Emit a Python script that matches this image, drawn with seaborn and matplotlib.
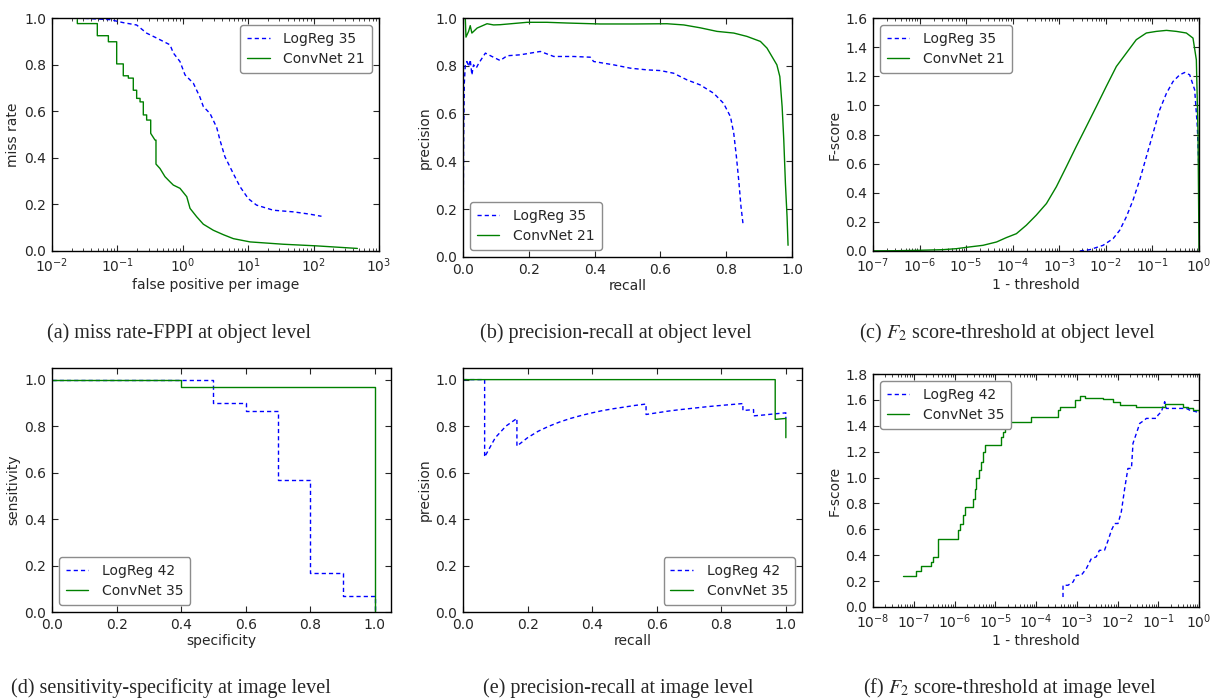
import numpy as np
import matplotlib
matplotlib.use("Agg")
import matplotlib.pyplot as plt
import matplotlib.ticker as mticker
import seaborn as sns

# (a) miss rate vs false positives per image, object level
a_lr_x = [0.0244, 0.077, 0.123, 0.197, 0.28, 0.398, 0.637, 0.716, 0.906, 1.08, 1.45, 1.83, 2.06,
          2.61, 3.3, 3.7, 4.4, 5.9, 7.5, 10, 13.4, 24.2, 49, 88, 132]
a_lr_y = [1.0, 0.993, 0.98, 0.97, 0.935, 0.914, 0.885, 0.85, 0.813, 0.756, 0.72, 0.66, 0.62,
          0.59, 0.53, 0.476, 0.405, 0.333, 0.276, 0.225, 0.197, 0.175, 0.168, 0.158, 0.149]
a_cn_x = [0.0244, 0.0244, 0.0493, 0.0493, 0.0728, 0.0728, 0.0975, 0.0975, 0.123, 0.123, 0.147, 0.147,
          0.175, 0.175, 0.197, 0.197, 0.222, 0.222, 0.249, 0.249, 0.28, 0.28, 0.323, 0.323, 0.376,
          0.389, 0.389, 0.448, 0.534, 0.637, 0.716, 0.906, 1.15, 1.29, 1.63, 2.06, 2.93, 4.17, 5.93,
          10.7, 34.4, 111, 467]
a_cn_y = [0.993, 0.976, 0.976, 0.924, 0.924, 0.898, 0.898, 0.803, 0.803, 0.752, 0.752, 0.742,
          0.742, 0.69, 0.69, 0.655, 0.655, 0.64, 0.64, 0.584, 0.584, 0.562, 0.562, 0.505, 0.476,
          0.476, 0.373, 0.354, 0.319, 0.297, 0.283, 0.269, 0.233, 0.183, 0.147, 0.115, 0.089, 0.07, 0.053,
          0.039, 0.029, 0.022, 0.011]

# (b) precision-recall, object level
b_lr_x = [0.0, 0.002, 0.004, 0.007, 0.012, 0.017, 0.022, 0.027, 0.032, 0.04, 0.048, 0.068, 0.088,
          0.113, 0.134, 0.174, 0.235, 0.276, 0.336, 0.387, 0.397, 0.458, 0.509, 0.559, 0.6, 0.64,
          0.681, 0.721, 0.762, 0.792, 0.813, 0.823, 0.831, 0.838, 0.845, 0.851]
b_lr_y = [0.0, 0.517, 0.727, 0.804, 0.818, 0.797, 0.825, 0.762, 0.804, 0.79, 0.811, 0.853, 0.839,
          0.822, 0.842, 0.846, 0.86, 0.839, 0.839, 0.836, 0.818, 0.804, 0.79, 0.783, 0.78, 0.769,
          0.741, 0.72, 0.685, 0.643, 0.587, 0.517, 0.42, 0.322, 0.21, 0.14]
b_cn_x = [0.007, 0.009, 0.017, 0.022, 0.027, 0.043, 0.073, 0.093, 0.113, 0.195, 0.255, 0.316, 0.417,
          0.519, 0.62, 0.671, 0.721, 0.772, 0.823, 0.863, 0.904, 0.924, 0.939, 0.954, 0.963, 0.97,
          0.975, 0.98, 0.985, 0.988]
b_cn_y = [1.0, 0.92, 0.944, 0.968, 0.937, 0.958, 0.976, 0.971, 0.972, 0.982, 0.982, 0.979, 0.975,
          0.975, 0.976, 0.971, 0.959, 0.944, 0.937, 0.923, 0.902, 0.874, 0.839, 0.804, 0.755, 0.629,
          0.49, 0.308, 0.168, 0.049]

# (c) F2 score vs 1 - threshold, object level
c_lr_x = [2.75e-3, 4.5e-3, 8.7e-3, 1.43e-2, 1.98e-2, 2.75e-2, 3.83e-2, 5.33e-2, 7.4e-2, 0.103, 0.143,
          0.2, 0.277, 0.386, 0.493, 0.631, 0.807, 0.921, 1.0]
c_lr_y = [0.0, 0.009, 0.039, 0.085, 0.142, 0.234, 0.349, 0.487, 0.647, 0.808, 0.969, 1.083, 1.164,
          1.21, 1.226, 1.21, 1.107, 0.854, 0.533]
c_cn_x = [1e-7, 3.2e-7, 1e-6, 3.1e-6, 6.2e-6, 1.19e-5, 2.3e-5, 4.5e-5, 7.3e-5, 1.2e-4, 1.96e-4, 3.2e-4,
          5.3e-4, 8.65e-4, 1.42e-3, 2.3e-3, 3.8e-3, 6.25e-3, 1.02e-2, 1.68e-2, 2.75e-2, 4.5e-2, 7.4e-2,
          0.121, 0.2, 0.327, 0.535, 0.743, 0.877, 0.953, 1.0]
c_cn_y = [0.001, 0.002, 0.005, 0.009, 0.016, 0.028, 0.039, 0.062, 0.092, 0.119, 0.177, 0.246, 0.326,
          0.441, 0.579, 0.716, 0.854, 0.992, 1.13, 1.267, 1.359, 1.451, 1.497, 1.508, 1.515, 1.508,
          1.497, 1.462, 1.313, 0.808, 0.005]

# (d) sensitivity vs specificity, image level (step curves)
d_lr_x = [0.0, 0.5, 0.6, 0.7, 0.8, 0.9, 1.0]
d_lr_y = [1.0, 0.9, 0.867, 0.567, 0.167, 0.067, 0.0]
d_cn_x = [0.0, 0.4, 1.0]
d_cn_y = [1.0, 0.967, 0.0]

# (e) precision-recall, image level
e_lr_x = [0.0, 0.033, 0.067, 0.067, 0.1, 0.133, 0.167, 0.167, 0.2, 0.233, 0.267, 0.3, 0.333, 0.367,
          0.4, 0.433, 0.467, 0.5, 0.533, 0.567, 0.567, 0.6, 0.633, 0.667, 0.7, 0.733, 0.767, 0.8,
          0.833, 0.867, 0.867, 0.9, 0.9, 0.933, 0.967, 1.0, 1.0]
e_lr_y = [1.0, 1.0, 1.0, 0.667, 0.75, 0.8, 0.833, 0.714, 0.75, 0.778, 0.8, 0.818, 0.833, 0.846,
          0.857, 0.867, 0.875, 0.882, 0.889, 0.895, 0.85, 0.857, 0.864, 0.87, 0.875, 0.88, 0.885, 0.889,
          0.893, 0.897, 0.867, 0.871, 0.844, 0.848, 0.853, 0.857, 0.833]
e_cn_x = [0.0, 0.967, 0.967, 1.0, 1.0]
e_cn_y = [1.0, 1.0, 0.829, 0.833, 0.75]

# (f) F2 score vs 1 - threshold, image level
f_lr_x = [4.6e-4, 4.6e-4, 6.1e-4, 8.1e-4, 9.8e-4, 1.29e-3, 1.72e-3, 2.28e-3, 3.0e-3, 3.6e-3, 4.8e-3,
          5.9e-3, 7.1e-3, 8.5e-3, 1.03e-2, 1.24e-2, 1.5e-2, 1.8e-2, 2.2e-2, 2.4e-2, 3.2e-2, 3.5e-2,
          4.6e-2, 5.1e-2, 9e-2, 9.9e-2, 0.119, 0.144, 0.158, 0.489, 0.59, 1.0]
f_lr_y = [0.077, 0.168, 0.168, 0.193, 0.245, 0.245, 0.297, 0.374, 0.387, 0.438, 0.438,
          0.516, 0.593, 0.645, 0.645, 0.735, 0.915, 1.07, 1.07, 1.264, 1.38, 1.418,
          1.444, 1.457, 1.457, 1.483, 1.508, 1.586, 1.534, 1.534, 1.521, 1.503]
f_cn_x = [5.45e-8, 1.16e-7, 1.5e-7, 2.6e-7, 3.0e-7, 3.94e-7, 1.22e-6, 1.4e-6, 1.62e-6, 1.8e-6, 2.84e-6,
          3.13e-6, 3.43e-6, 3.99e-6, 4.39e-6, 5.0e-6, 5.5e-6, 1.41e-5, 1.55e-5, 1.7e-5, 2.06e-5, 7.7e-5,
          3.5e-4, 3.8e-4, 8.9e-4, 1.18e-3, 1.56e-3, 4.4e-3, 7.8e-3, 1.13e-2, 2.9e-2, 0.15, 0.4, 0.54,
          0.71, 1.0]
f_cn_y = [0.237, 0.275, 0.315, 0.35, 0.387, 0.523, 0.593, 0.645, 0.714, 0.774, 0.838,
          0.915, 0.993, 1.057, 1.122, 1.2, 1.25, 1.315, 1.354, 1.385, 1.431, 1.47,
          1.52, 1.547, 1.6, 1.632, 1.612, 1.604, 1.586, 1.56, 1.547, 1.565, 1.547, 1.534,
          1.521, 1.508]

captions = ["(a) miss rate-FPPI at object level",
            "(b) precision-recall at object level",
            r"(c) $F_2$ score-threshold at object level",
            "(d) sensitivity-specificity at image level",
            "(e) precision-recall at image level",
            r"(f) $F_2$ score-threshold at image level"]

sns.set_style("ticks")
plt.rcParams["font.family"] = ["DejaVu Sans"]
plt.rcParams["font.size"] = 10
plt.rcParams["lines.dashed_pattern"] = [3.0, 2.2]

BLUE = "#0000ff"
GREEN = "#008000"
W, H = 1213, 699

fig = plt.figure(figsize=(W / 100, H / 100), dpi=100)
fig.patch.set_facecolor("white")


def make_ax(l, r, t, b):
    return fig.add_axes([l / W, 1 - b / H, (r - l) / W, (b - t) / H])


def style_ax(ax, xlabel, ylabel):
    ax.set_xlabel(xlabel, fontsize=10, labelpad=2)
    ax.set_ylabel(ylabel, fontsize=10, labelpad=3)
    ax.tick_params(which="both", direction="in", top=True, right=True, labelsize=10, pad=4)
    ax.tick_params(which="major", length=4.5, width=0.8)
    ax.tick_params(which="minor", length=2, width=0.6)
    for s in ax.spines.values():
        s.set_linewidth(1.0)
        s.set_color("black")


def draw(ax, x, y, color, ls, label, drawstyle="default"):
    sns.lineplot(x=x, y=y, ax=ax, color=color, linestyle=ls, linewidth=1.0,
                 label=label, sort=False, estimator=None, drawstyle=drawstyle)


def legend(ax, loc):
    ax.legend(loc=loc, fontsize=10, frameon=True, fancybox=True, edgecolor="0.55",
              framealpha=1, handlelength=1.6, handletextpad=1.0, borderpad=0.5,
              labelspacing=0.45)


def log_x(ax, lo, hi):
    ax.set_xscale("log")
    ax.set_xlim(lo, hi)
    ax.xaxis.set_major_locator(mticker.LogLocator(base=10, numticks=20))
    ax.xaxis.set_minor_locator(mticker.LogLocator(base=10, subs=np.arange(2, 10), numticks=20))


# (a)
ax = make_ax(52, 379, 18, 251)
draw(ax, a_lr_x, a_lr_y, BLUE, "--", "LogReg 35")
draw(ax, a_cn_x, a_cn_y, GREEN, "-", "ConvNet 21")
log_x(ax, 1e-2, 1e3)
ax.set_ylim(0, 1)
ax.yaxis.set_major_locator(mticker.MultipleLocator(0.2))
style_ax(ax, "false positive per image", "miss rate")
legend(ax, "upper right")

# (b)
ax = make_ax(463, 792, 18, 257)
draw(ax, b_lr_x, b_lr_y, BLUE, "--", "LogReg 35")
draw(ax, b_cn_x, b_cn_y, GREEN, "-", "ConvNet 21")
ax.set_xlim(0, 1)
ax.set_ylim(0, 1)
ax.xaxis.set_major_locator(mticker.MultipleLocator(0.2))
ax.yaxis.set_major_locator(mticker.MultipleLocator(0.2))
style_ax(ax, "recall", "precision")
legend(ax, "lower left")

# (c)
ax = make_ax(873, 1199, 18, 251)
draw(ax, c_lr_x, c_lr_y, BLUE, "--", "LogReg 35")
draw(ax, c_cn_x, c_cn_y, GREEN, "-", "ConvNet 21")
log_x(ax, 1e-7, 1e0)
ax.set_ylim(0, 1.6)
ax.yaxis.set_major_locator(mticker.MultipleLocator(0.2))
style_ax(ax, "1 - threshold", "F-score")
legend(ax, "upper left")

# (d)
ax = make_ax(52, 391, 368, 612)
draw(ax, d_lr_x, d_lr_y, BLUE, "--", "LogReg 42", drawstyle="steps-post")
draw(ax, d_cn_x, d_cn_y, GREEN, "-", "ConvNet 35", drawstyle="steps-post")
ax.set_xlim(0, 1.05)
ax.set_ylim(0, 1.05)
ax.xaxis.set_major_locator(mticker.MultipleLocator(0.2))
ax.yaxis.set_major_locator(mticker.MultipleLocator(0.2))
style_ax(ax, "specificity", "sensitivity")
legend(ax, "lower left")

# (e)
ax = make_ax(463, 802, 368, 612)
draw(ax, e_lr_x, e_lr_y, BLUE, "--", "LogReg 42")
draw(ax, e_cn_x, e_cn_y, GREEN, "-", "ConvNet 35")
ax.set_xlim(0, 1.05)
ax.set_ylim(0, 1.05)
ax.xaxis.set_major_locator(mticker.MultipleLocator(0.2))
ax.yaxis.set_major_locator(mticker.MultipleLocator(0.2))
style_ax(ax, "recall", "precision")
legend(ax, "lower right")

# (f)
ax = make_ax(873, 1199, 374, 607)
draw(ax, f_lr_x, f_lr_y, BLUE, "--", "LogReg 42")
draw(ax, f_cn_x, f_cn_y, GREEN, "-", "ConvNet 35", drawstyle="steps-post")
log_x(ax, 1e-8, 1e0)
ax.set_ylim(0, 1.8)
ax.yaxis.set_major_locator(mticker.MultipleLocator(0.2))
style_ax(ax, "1 - threshold", "F-score")
legend(ax, "upper left")

# captions under each panel
cap_x = [179, 616, 1007, 171, 618, 1010]
cap_y = [333, 333, 333, 688, 688, 688]
for txt, cx, cy in zip(captions, cap_x, cap_y):
    fig.text(cx / W, 1 - cy / H, txt, ha="center", va="center", fontsize=14.5,
             family="Liberation Serif", math_fontfamily="stix")

fig.savefig("out.png", dpi=100, facecolor="white")
